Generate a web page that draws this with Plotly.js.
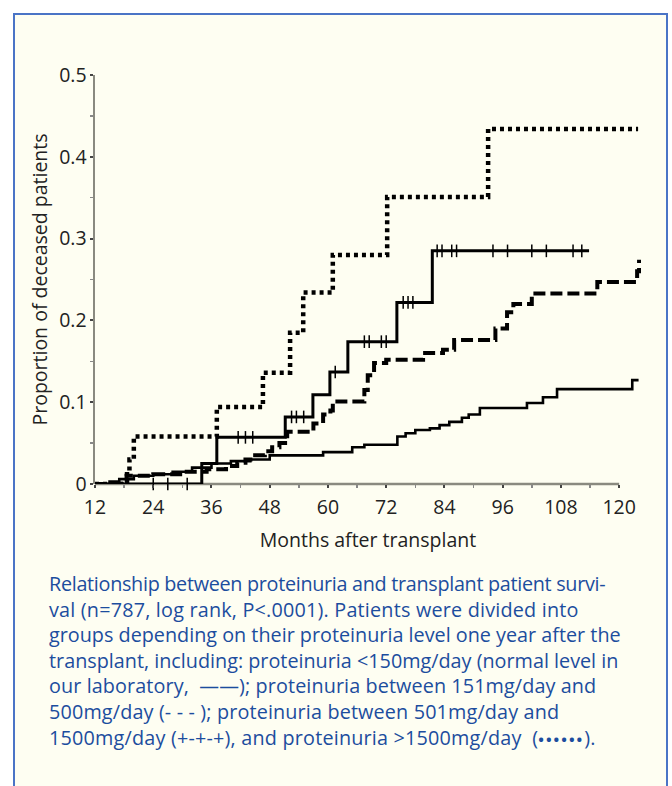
<!DOCTYPE html>
<html>
<head>
<meta charset="utf-8">
<script src="https://cdn.plot.ly/plotly-3.0.1.min.js"></script>
<style>
  html, body { margin:0; padding:0; background:#ffffff; width:672px; height:786px; overflow:hidden; }
  #frame { position:absolute; left:13px; top:13px; width:655px; height:800px; border:2px solid #4a74c6; background:#fefef2; box-sizing:border-box; }
  #chart { position:absolute; left:0; top:0; width:672px; height:786px; }
  #caption { position:absolute; left:49px; top:571px; width:620px; font-family:'Open Sans', sans-serif; font-size:19.8px; line-height:25.6px; color:#1c4d9e; white-space:nowrap; }
  #caption span.l { display:block; }
  .bul { font-size:15px; letter-spacing:2px; font-weight:bold; }
</style>
</head>
<body>
<div id="frame"></div>
<div id="chart"></div>
<div id="caption"><span class="l" style="letter-spacing:-0.3px">Relationship between proteinuria and transplant patient survi-</span><span class="l" style="letter-spacing:0.2px">val (n=787, log rank, P&lt;.0001). Patients were divided into</span><span class="l" style="letter-spacing:0px">groups depending on their proteinuria level one year after the</span><span class="l" style="letter-spacing:0px">transplant, including: proteinuria &lt;150mg/day (normal level in</span><span class="l" style="letter-spacing:0.1px">our laboratory,&nbsp; ——); proteinuria between 151mg/day and</span><span class="l" style="letter-spacing:0.15px">500mg/day (- - - ); proteinuria between 501mg/day and</span><span class="l" style="letter-spacing:0.2px">1500mg/day (+-+-+), and proteinuria &gt;1500mg/day&nbsp; (<span class="bul">••••••</span>).</span></div>
<script>
// ---- Data ----
// proteinuria <150 mg/day (solid)
const normalMonths = [12, 15, 17, 20, 24, 28, 32, 36, 40, 44, 48, 59, 65, 67.5, 74.3, 76, 78, 81, 83, 85, 87.6, 89, 91.3, 101, 104.3, 107.2, 122.7, 124];
const normalProp   = [0, 0.003, 0.006, 0.01, 0.012, 0.015, 0.02, 0.025, 0.028, 0.03, 0.035, 0.039, 0.045, 0.048, 0.058, 0.062, 0.066, 0.068, 0.072, 0.076, 0.081, 0.085, 0.093, 0.099, 0.106, 0.116, 0.127, 0.127];

// proteinuria 151-500 mg/day (dashed)
const midMonths = [12, 17.5, 18.5, 24, 30, 35, 39, 41.3, 43, 45, 47, 48.5, 50, 51.6, 57, 59, 60.5, 61, 67.5, 68.2, 69.5, 72, 79.6, 83.7, 86, 94.5, 96.9, 98.2, 102, 115.5, 123.7, 124.1];
const midProp   = [0, 0.005, 0.01, 0.012, 0.015, 0.018, 0.022, 0.026, 0.03, 0.035, 0.04, 0.045, 0.05, 0.064, 0.074, 0.085, 0.09, 0.101, 0.115, 0.133, 0.148, 0.152, 0.16, 0.164, 0.176, 0.19, 0.21, 0.22, 0.233, 0.247, 0.26, 0.274];

// proteinuria 501-1500 mg/day (solid with censor marks)
const highMonths = [12, 34.0, 37.1, 51.2, 56.9, 60.4, 64.1, 74.2, 81.5, 113.8];
const highProp   = [0, 0.025, 0.057, 0.082, 0.109, 0.137, 0.174, 0.222, 0.285, 0.285];
const censorMonths = [24, 27, 31, 41.5, 43, 44.5, 52.5, 53.5, 55, 61.5, 67.5, 68.5, 71, 72, 75.5, 76.5, 77.5, 82.5, 83.5, 85.5, 86.5, 94, 97, 102, 105, 110.5, 112.3];
const censorProp   = [0, 0, 0, 0.057, 0.057, 0.057, 0.082, 0.082, 0.082, 0.137, 0.174, 0.174, 0.174, 0.174, 0.222, 0.222, 0.222, 0.285, 0.285, 0.285, 0.285, 0.285, 0.285, 0.285, 0.285, 0.285, 0.285];

// proteinuria >1500 mg/day (dotted)
const veryHighMonths = [12, 18.6, 19.1, 20.0, 37.1, 46.6, 52.2, 54.9, 61.0, 72.2, 93.0, 123.9];
const veryHighProp   = [0, 0.015, 0.03, 0.058, 0.094, 0.136, 0.185, 0.234, 0.28, 0.351, 0.434, 0.434];

const xTicks = [12, 24, 36, 48, 60, 72, 84, 96, 108, 120];
const yTicks = [0, 0.1, 0.2, 0.3, 0.4, 0.5];
const yTickText = ['0', '0.1', '0.2', '0.3', '0.4', '0.5'];

const traces = [
  { x: normalMonths, y: normalProp, mode: 'lines', line: { shape: 'hv', color: '#000', width: 2.6 }, name: '<150mg/day' },
  { x: midMonths, y: midProp, mode: 'lines', line: { shape: 'hv', color: '#000', width: 4, dash: '12px,5px' }, name: '151-500mg/day' },
  { x: highMonths, y: highProp, mode: 'lines', line: { shape: 'hv', color: '#000', width: 3 }, name: '501-1500mg/day' },
  { x: censorMonths, y: censorProp, mode: 'markers', marker: { symbol: 'line-ns', size: 9, color: '#000', line: { color: '#000', width: 1.5 } }, cliponaxis: false, name: 'censored' },
  { x: veryHighMonths, y: veryHighProp, mode: 'lines', line: { shape: 'hv', color: '#000', width: 4.5, dash: '4px,4px' }, name: '>1500mg/day' }
];

const fontFam = "'Open Sans', sans-serif";
const layout = {
  width: 672, height: 786,
  margin: { l: 95, r: 31, t: 75, b: 302 },
  paper_bgcolor: 'rgba(0,0,0,0)',
  plot_bgcolor: 'rgba(0,0,0,0)',
  showlegend: false,
  font: { family: fontFam, size: 19, color: '#222' },
  xaxis: {
    range: [12, 124.5],
    tickmode: 'array', tickvals: xTicks, ticktext: xTicks.map(String),
    ticks: 'outside', ticklen: 3, tickwidth: 2, tickcolor: '#444',
    minor: { tick0: 12, dtick: 6, ticks: 'outside', ticklen: 3, tickwidth: 1.5, tickcolor: '#888' },
    showline: false, showgrid: false, zeroline: false,
    tickfont: { family: fontFam, size: 19.5, color: '#222' },
    ticklabelstandoff: 3,
    title: { text: 'Months after transplant', font: { family: fontFam, size: 19.5, color: '#222' }, standoff: 13 }
  },
  yaxis: {
    range: [0, 0.5],
    tickmode: 'array', tickvals: yTicks, ticktext: yTickText,
    ticks: 'outside', ticklen: 3, tickwidth: 2, tickcolor: '#444',
    minor: { tick0: 0, dtick: 0.05, ticks: 'outside', ticklen: 3, tickwidth: 1.5, tickcolor: '#888' },
    showline: true, linecolor: '#8a8a80', linewidth: 2.5,
    showgrid: false, zeroline: false,
    tickfont: { family: fontFam, size: 19.5, color: '#222' },
    ticklabelstandoff: -1,
    title: { text: 'Proportion of deceased patients', font: { family: fontFam, size: 19.5, color: '#222' }, standoff: 7 }
  },
  shapes: [
    { type: 'line', xref: 'x', yref: 'paper', x0: 12, x1: 120, y0: 0, y1: 0, line: { color: '#8a8a80', width: 2.5 }, layer: 'below' }
  ]
};

Plotly.newPlot('chart', traces, layout, { displayModeBar: false, staticPlot: true });
</script>
</body>
</html>
